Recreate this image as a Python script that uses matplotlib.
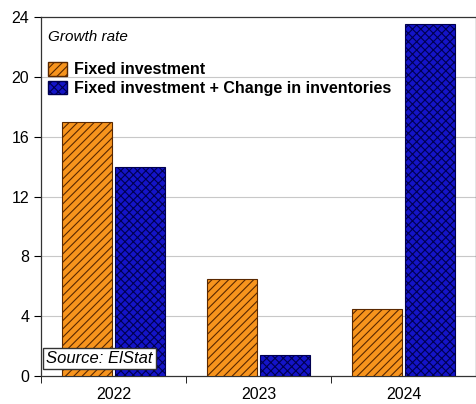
import matplotlib
matplotlib.use("Agg")
from matplotlib import pyplot as plt
from matplotlib.patches import Patch
import numpy as np

years = ["2022", "2023", "2024"]
fixed_inv = [17.0, 6.5, 4.5]
fixed_plus_inv = [14.0, 1.4, 23.5]
y_ticks = [0, 4, 8, 12, 16, 20, 24]

plt.rcParams['font.family'] = ['Liberation Sans', 'DejaVu Sans']
plt.rcParams['hatch.linewidth'] = 0.8

fig = plt.figure(figsize=(4.77, 4.04), dpi=100)
ax = fig.add_axes([0.086, 0.069, 0.912, 0.889])

x = np.arange(len(years))
w = 0.345
ax.bar(x - w / 2 - 0.01, fixed_inv, w, color="#F7941D", edgecolor="#5a2800",
       hatch="////", linewidth=0.8, zorder=3)
ax.bar(x + w / 2 + 0.01, fixed_plus_inv, w, color="#1414C8", edgecolor="#000050",
       hatch="xxxx", linewidth=0.8, zorder=3)

ax.set_xlim(-0.5, 2.5)
ax.set_ylim(0, 24)
ax.set_yticks(y_ticks)
ax.tick_params(axis="y", labelsize=11.5, length=5, direction="out")
for v in y_ticks[1:-1]:
    ax.axhline(v, color="#c8c8c8", linewidth=0.8, zorder=1)

ax.set_xticks(x)
ax.set_xticklabels(years, fontsize=11.5)
ax.tick_params(axis="x", length=0, pad=8)
ax.set_xticks([-0.5, 0.5, 1.5], minor=True)
ax.tick_params(axis="x", which="minor", length=5, direction="out")

for s in ax.spines.values():
    s.set_color("#333333")
    s.set_linewidth(0.9)

ax.text(0.017, 0.965, "Growth rate", transform=ax.transAxes, style="italic",
        fontsize=11, va="top")
handles = [Patch(facecolor="#F7941D", edgecolor="#5a2800", hatch="////"),
           Patch(facecolor="#1414C8", edgecolor="#000050", hatch="xxxx")]
ax.legend(handles, ["Fixed investment", "Fixed investment + Change in inventories"],
          loc="upper left", bbox_to_anchor=(-0.01, 0.905), frameon=False,
          prop={"weight": "bold", "size": 11.5}, handlelength=1.2, handleheight=0.9,
          handletextpad=0.45, labelspacing=0.22, borderaxespad=0.3)

ax.text(0.012, 0.028, "Source: ElStat", transform=ax.transAxes, style="italic",
        fontsize=12, va="bottom", zorder=5,
        bbox=dict(facecolor="white", edgecolor="#333333", boxstyle="square,pad=0.2"))

plt.savefig("out.png", dpi=100)
